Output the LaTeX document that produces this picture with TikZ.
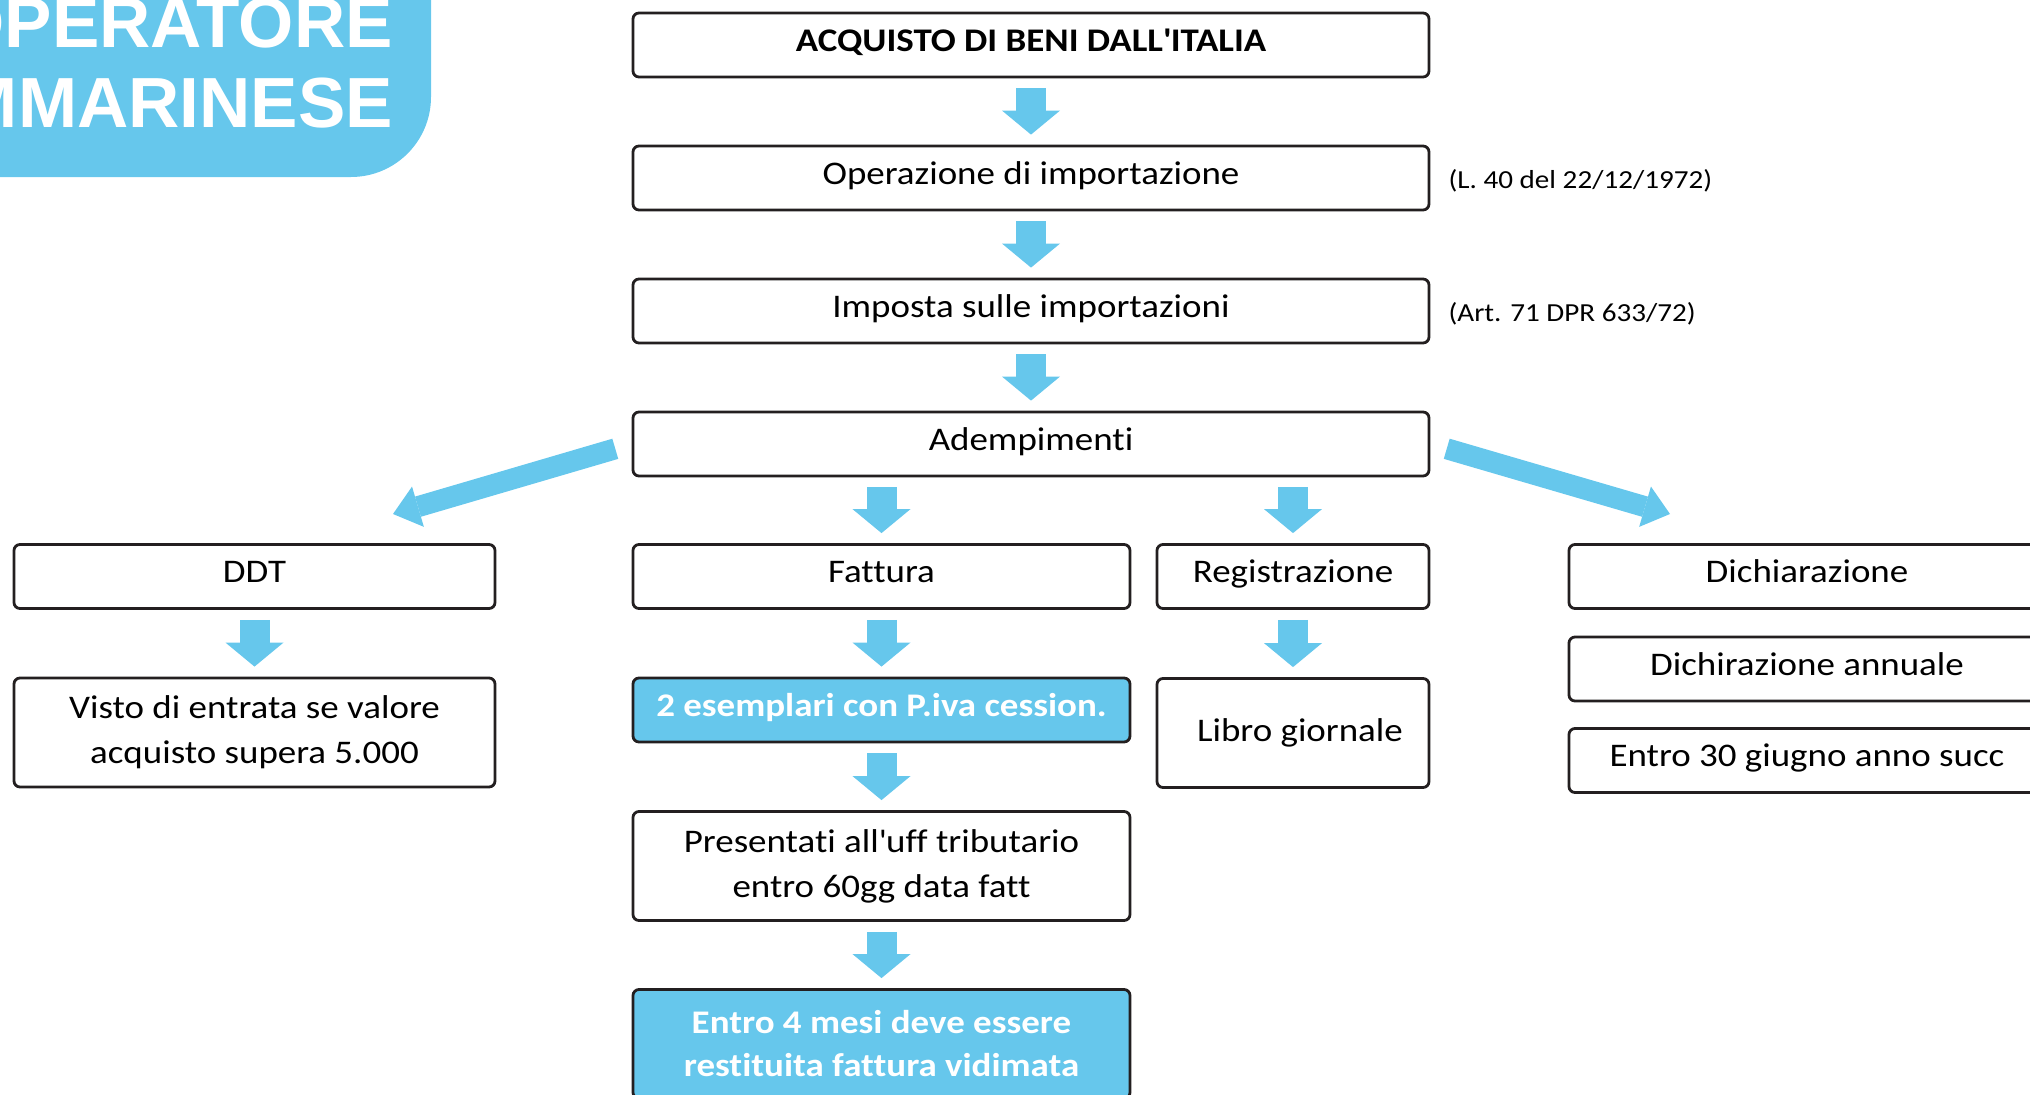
\documentclass[tikz,border=0pt]{standalone}
\usepackage{fontspec}
\setmainfont{Carlito}[FakeStretch=1.12,Ligatures={TeX,NoCommon}]
\newfontfamily\titlefont{Liberation Sans}
\usetikzlibrary{arrows.meta,positioning}
\definecolor{skyblue}{RGB}{102,199,236}
\definecolor{boxline}{RGB}{35,31,32}

\begin{document}
\begin{tikzpicture}[x=1pt,y=-1pt,
  box/.style={draw=boxline,line width=2.8pt,rounded corners=6pt,minimum height=64pt,
    inner sep=0pt,align=center,font=\fontsize{33}{45}\selectfont},
  onebox/.style={box,text height=24pt,text depth=12pt},
  tallbox/.style={box,minimum height=109pt},
  bluebox/.style={box,fill=skyblue,text=white,font=\fontsize{33}{45}\selectfont\bfseries},
  down/.style={draw=skyblue,line width=30pt,shorten <=10pt,shorten >=10pt,
    -{Triangle[width=58pt,length=24pt,line width=0pt]}},
  slant/.style={draw=skyblue,line width=21pt,shorten <=17pt,
    -{Triangle[width=42pt,length=26pt,line width=0pt]}},
  note/.style={inner sep=0pt,yshift=-3pt,font=\fontsize{26}{30}\selectfont}]
\useasboundingbox (0,0) rectangle (2030,1095);

% title banner
\fill[skyblue,rounded corners=80pt] (-200,-200) rectangle (431,177);
\node[anchor=base east,inner sep=0pt,text=white,font=\titlefont\bfseries\fontsize{71}{80}\selectfont] (title1) at (393,47) {OPERATORE};
\node[anchor=base east,inner sep=0pt,text=white,font=\titlefont\bfseries\fontsize{71}{80}\selectfont] (title2) at (393,127) {SAMMARINESE};

% main column
\node[onebox,minimum width=796pt,font=\fontsize{33}{45}\selectfont\bfseries] (acq) at (1031,45) {ACQUISTO DI BENI DALL\textquotesingle ITALIA};
\node[onebox,minimum width=796pt] (op) at (1031,178) {Operazione di importazione};
\node[onebox,minimum width=796pt] (imp) at (1031,311) {Imposta sulle importazioni};
\node[onebox,minimum width=796pt] (adem) at (1031,444) {Adempimenti};
\node[note,right=18pt of op] (lawop) {(L. 40 del 22/12/1972)};
\node[note,right=18pt of imp] (lawimp) {(Art. 71 DPR 633/72)};

% second level
\node[onebox,minimum width=481pt] (ddt) at (254.5,576.5) {DDT};
\node[onebox,minimum width=497pt] (fatt) at (881.5,576.5) {Fattura};
\node[onebox,minimum width=272pt] (reg) at (1293,576.5) {Registrazione};
\node[onebox,minimum width=476pt] (dich) at (1807,576.5) {Dichiarazione};

\node[tallbox,minimum width=481pt] (visto) at (254.5,732.5) {Visto di entrata se valore\\acquisto supera 5.000};
\node[bluebox,onebox,font=\fontsize{33}{45}\selectfont\bfseries,minimum width=497pt] (esem) at (881.5,710) {2 esemplari con P.iva cession.};
\node[tallbox,minimum width=272pt] (libro) at (1293,733) {\hspace*{14pt}Libro giornale};
\node[onebox,minimum width=476pt] (dann) at (1807,669) {Dichirazione annuale};
\node[onebox,minimum width=476pt] (entro30) at (1807,760.5) {Entro 30 giugno anno succ};

\node[tallbox,minimum width=497pt] (pres) at (881.5,866) {Presentati all\textquotesingle uff tributario\\entro 60gg data fatt};
\node[bluebox,minimum height=109pt,minimum width=497pt] (entro4) at (881.5,1044) {Entro 4 mesi deve essere\\[-2pt]restituita fattura vidimata};

% arrows
\draw[down] (acq) -- (op);
\draw[down] (op) -- (imp);
\draw[down] (imp) -- (adem);
\draw[down] (adem.south -| fatt) -- (fatt);
\draw[down] (adem.south -| reg) -- (reg);
\draw[down] (ddt) -- (visto);
\draw[down] (fatt) -- (esem);
\draw[down] (reg) -- (libro);
\draw[down] (esem) -- (pres);
\draw[down] (pres) -- (entro4);

\coordinate (ddttip) at (393,514);
\coordinate (dichtip) at (1670,514);
\draw[slant] (adem.west) -- (ddttip);
\draw[slant] (adem.east) -- (dichtip);
\end{tikzpicture}
\end{document}
